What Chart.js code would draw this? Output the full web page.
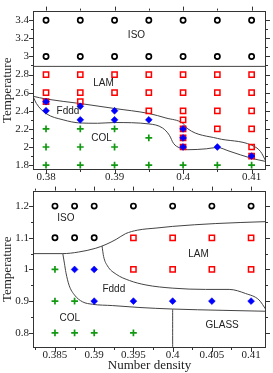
<!DOCTYPE html>
<html>
<head>
<meta charset="utf-8">
<script src="https://cdn.jsdelivr.net/npm/chart.js@4"></script>
<style>
  html, body { margin: 0; padding: 0; background: #fff; }
  #wrap { position: relative; width: 273px; height: 373px; }
  canvas { position: absolute; left: 0; }
</style>
</head>
<body>
<div id="wrap">
  <canvas id="topChart" width="273" height="186" style="top:0"></canvas>
  <canvas id="bottomChart" width="273" height="193" style="top:180px"></canvas>
</div>
<script>
// ---- upper panel: number density vs temperature ----
const isoTop = [[0.38,3.4],[0.385,3.4],[0.39,3.4],[0.395,3.4],[0.40,3.4],[0.405,3.4],[0.41,3.4],
                [0.38,3.0],[0.385,3.0],[0.39,3.0],[0.395,3.0],[0.40,3.0],[0.405,3.0],[0.41,3.0]];
const lamTop = [[0.38,2.8],[0.385,2.8],[0.39,2.8],[0.395,2.8],[0.40,2.8],[0.405,2.8],[0.41,2.8],
                [0.38,2.6],[0.385,2.6],[0.39,2.6],[0.395,2.6],[0.40,2.6],[0.405,2.6],[0.41,2.6],
                [0.38,2.5],[0.385,2.5],[0.395,2.4],[0.40,2.4],[0.405,2.4],[0.41,2.4],
                [0.40,2.3],[0.40,2.2],[0.405,2.2],[0.41,2.2],[0.40,2.1],[0.40,2.0],[0.41,2.0],[0.41,1.9]];
const fdddTop = [[0.38,2.5],[0.38,2.4],[0.385,2.45],[0.385,2.3],[0.39,2.4],[0.39,2.3],[0.395,2.3],
                 [0.40,2.2],[0.40,2.1],[0.40,2.0],[0.405,2.0],[0.41,1.9]];
const colTop = [[0.38,2.2],[0.385,2.2],[0.39,2.2],[0.395,2.1],[0.38,2.0],[0.385,2.0],[0.39,2.0],
                [0.38,1.8],[0.385,1.8],[0.39,1.8],[0.395,1.8],[0.40,1.8],[0.405,1.8],[0.41,1.8]];
// phase boundaries (upper)
const isoLineTop = [[0.3781,2.89],[0.4121,2.89]];
const fdddUpperTop = [[0.3781,2.56],[0.38,2.53],[0.385,2.48],[0.39,2.425],[0.395,2.37],[0.3975,2.32],
                      [0.40,2.26],[0.4007,2.2],[0.405,2.095],[0.41,2.02],[0.4113,1.95],[0.4121,1.84]];
const fdddLowerTop = [[0.3781,2.56],[0.3786,2.48],[0.38,2.37],[0.3825,2.30],[0.385,2.265],[0.3875,2.262],
                      [0.39,2.27],[0.395,2.255],[0.397,2.21],[0.398,2.13],[0.3986,2.04],[0.3995,1.99],
                      [0.4007,1.97],[0.4034,1.98],[0.405,1.995],[0.4067,1.955],[0.41,1.875],[0.4121,1.84]];
const labelsTop = [['ISO',0.3932,3.23],['LAM',0.3884,2.70],['Fddd',0.3832,2.40],['COL',0.3881,2.10]];
const xMajorTop = [0.38,0.39,0.40,0.41];
const xMinorTop = [0.385,0.395,0.405];
const yMajorTop = [1.8,2.0,2.2,2.4,2.6,2.8,3.0,3.2,3.4];
const yMinorTop = [1.9,2.1,2.3,2.5,2.7,2.9,3.1,3.3];

// ---- lower panel ----
const isoBot = [[0.385,1.2],[0.3875,1.2],[0.39,1.2],[0.395,1.2],[0.40,1.2],[0.405,1.2],[0.41,1.2],
                [0.385,1.1],[0.3875,1.1],[0.39,1.1]];
const lamBot = [[0.395,1.1],[0.40,1.1],[0.405,1.1],[0.41,1.1],[0.395,1.0],[0.40,1.0],[0.405,1.0],[0.41,1.0]];
const fdddBot = [[0.3875,1.0],[0.39,1.0],[0.39,0.9],[0.395,0.9],[0.40,0.9],[0.405,0.9],[0.41,0.9]];
const colBot = [[0.385,1.0],[0.385,0.9],[0.3875,0.9],[0.385,0.8],[0.3875,0.8],[0.39,0.8],[0.395,0.8]];
const isoLineBot = [[0.3822,1.05],[0.386,1.05],[0.388,1.055],[0.3902,1.067],[0.3915,1.079],[0.3928,1.095],
                    [0.394,1.113],[0.3955,1.124],[0.398,1.131],[0.40,1.136],[0.4055,1.145],[0.4119,1.151]];
const colLineBot = [[0.386,1.05],[0.3862,1.02],[0.3864,0.99],[0.3868,0.95],[0.3875,0.919],[0.3885,0.898],
                    [0.3898,0.89],[0.3923,0.886],[0.3957,0.88],[0.40,0.875],[0.4063,0.871],[0.4119,0.868]];
const lamLineBot = [[0.391,1.074],[0.3912,1.041],[0.3917,1.011],[0.3928,0.985],[0.3945,0.965],[0.3966,0.951],
                    [0.40,0.941],[0.4042,0.937],[0.4072,0.937],[0.4093,0.924],[0.411,0.904],[0.4119,0.873]];
const glassLineBot = [[0.40,0.875],[0.40,0.752]];
const labelsBot = [['ISO',0.3864,1.161],['LAM',0.4033,1.048],['Fddd',0.3925,0.937],['COL',0.3869,0.845],['GLASS',0.4063,0.825]];
const xMajorBot = [0.385,0.39,0.395,0.40,0.405,0.41];
const xMinorBot = [0.3825,0.3875,0.3925,0.3975,0.4025,0.4075];
const yMajorBot = [0.8,0.9,1.0,1.1,1.2];
const yMinorBot = [0.85,0.95,1.05,1.15];

const pts = a => a.map(([x, y]) => ({x, y}));
const fmt = v => String(+Number(v).toFixed(4));
const serif = 'Liberation Serif, Times New Roman, serif';

// frame, outward tick marks and region names
const framePlugin = {
    id: 'frame',
    afterDatasetsDraw(chart, args, o) {
        const {ctx, chartArea: a, scales: {x, y}} = chart;
        ctx.save();
        ctx.strokeStyle = '#333';
        ctx.lineWidth = 1;
        ctx.strokeRect(Math.round(a.left) + 0.5, Math.round(a.top) + 0.5,
                       Math.round(a.right - a.left) - 1, Math.round(a.bottom - a.top) - 1);
        ctx.beginPath();
        const tx = (v, len) => {
            const p = Math.round(x.getPixelForValue(v)) + 0.5;
            ctx.moveTo(p, a.bottom); ctx.lineTo(p, a.bottom + len);
            ctx.moveTo(p, a.top); ctx.lineTo(p, a.top - len);
        };
        const ty = (v, len) => {
            const p = Math.round(y.getPixelForValue(v)) + 0.5;
            ctx.moveTo(a.left, p); ctx.lineTo(a.left - len, p);
            ctx.moveTo(a.right, p); ctx.lineTo(a.right + len, p);
        };
        o.xMajor.forEach(v => tx(v, 4));
        o.xMinor.forEach(v => tx(v, 2));
        o.yMajor.forEach(v => ty(v, 4));
        o.yMinor.forEach(v => ty(v, 2));
        ctx.stroke();
        ctx.fillStyle = '#222';
        ctx.font = '10px "Liberation Sans", Arial, sans-serif';
        ctx.textAlign = 'center';
        ctx.textBaseline = 'middle';
        o.labels.forEach(([t, lx, ly]) => ctx.fillText(t, x.getPixelForValue(lx), y.getPixelForValue(ly)));
        ctx.restore();
    }
};

function panel(id, p) {
    const marks = (data, style, color, fill, r, w, order) => ({
        data: pts(data), pointStyle: style, pointRadius: r, pointHoverRadius: r,
        pointBorderColor: color, pointBackgroundColor: fill, pointBorderWidth: w,
        showLine: false, order: order
    });
    const line = data => ({
        data: pts(data), showLine: true, pointRadius: 0, borderColor: '#444', borderWidth: 1,
        cubicInterpolationMode: 'monotone', fill: false, order: 9
    });
    new Chart(document.getElementById(id), {
        type: 'scatter',
        data: {
            datasets: [
                marks(p.fddd, 'rectRot', '#0000ff', '#0000ff', 3.4, 0.6, 0),
                marks(p.lam, 'rect', '#ff0000', 'rgba(0,0,0,0)', 3.7, 1.5, 1),
                marks(p.iso, 'circle', '#000000', 'rgba(0,0,0,0)', 2.6, 1.7, 2),
                marks(p.col, 'cross', '#119911', '#119911', 3.4, 1.7, 2),
                ...p.lines.map(line)
            ]
        },
        options: {
            responsive: false,
            animation: false,
            events: [],
            layout: { padding: { top: 6, right: 7, left: 0, bottom: 0 } },
            plugins: {
                legend: { display: false },
                tooltip: { enabled: false },
                frame: { xMajor: p.xMajor, xMinor: p.xMinor, yMajor: p.yMajor, yMinor: p.yMinor, labels: p.labels }
            },
            scales: {
                x: {
                    type: 'linear', min: p.xMin, max: p.xMax,
                    afterBuildTicks: s => { s.ticks = p.xMajor.map(v => ({ value: v })); },
                    afterFit: s => { s.height = p.xHeight; },
                    grid: { display: false, drawTicks: false }, border: { display: false },
                    ticks: { callback: fmt, autoSkip: false, maxRotation: 0, padding: 1,
                             color: '#222', font: { family: serif, size: 11 } },
                    title: { display: !!p.xTitle, text: p.xTitle, color: '#222', padding: 0,
                             font: { family: serif, size: 13 } }
                },
                y: {
                    type: 'linear', min: p.yMin, max: p.yMax,
                    afterBuildTicks: s => { s.ticks = p.yMajor.map(v => ({ value: v })); },
                    afterFit: s => { s.width = 33; },
                    grid: { display: false, drawTicks: false }, border: { display: false },
                    ticks: { callback: fmt, autoSkip: false, padding: 4,
                             color: '#222', font: { family: serif, size: 11 } },
                    title: { display: true, text: 'Temperature', color: '#222', padding: 0,
                             font: { family: serif, size: 13 } }
                }
            }
        },
        plugins: [framePlugin]
    });
}

panel('topChart', {
    iso: isoTop, lam: lamTop, fddd: fdddTop, col: colTop,
    lines: [isoLineTop, fdddUpperTop, fdddLowerTop], labels: labelsTop,
    xMin: 0.3781, xMax: 0.4121, yMin: 1.746, yMax: 3.506,
    xMajor: xMajorTop, xMinor: xMinorTop, yMajor: yMajorTop, yMinor: yMinorTop,
    xHeight: 16, xTitle: ''
});

panel('bottomChart', {
    iso: isoBot, lam: lamBot, fddd: fdddBot, col: colBot,
    lines: [isoLineBot, colLineBot, lamLineBot, glassLineBot], labels: labelsBot,
    xMin: 0.3822, xMax: 0.4119, yMin: 0.752, yMax: 1.249,
    xMajor: xMajorBot, xMinor: xMinorBot, yMajor: yMajorBot, yMinor: yMinorBot,
    xHeight: 25, xTitle: 'Number density'
});
</script>
</body>
</html>
